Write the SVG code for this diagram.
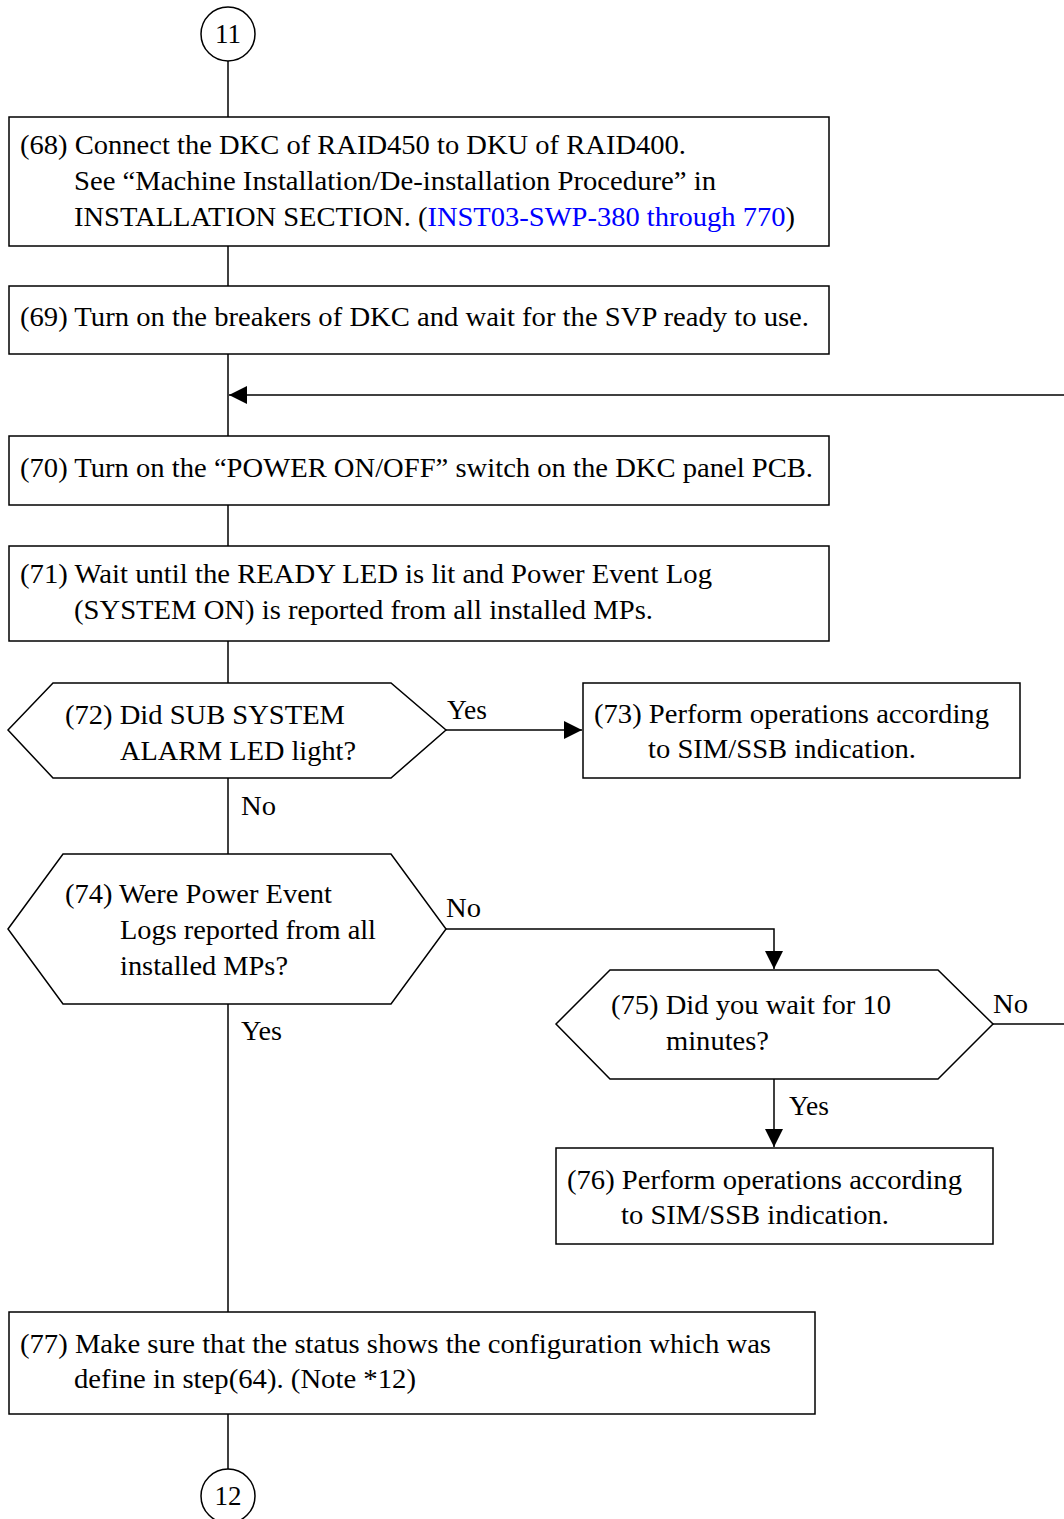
<svg xmlns="http://www.w3.org/2000/svg" width="1064" height="1519" viewBox="0 0 1064 1519">
<defs>
<style>
.n{fill:#fff;stroke:#000;stroke-width:1.5}
.c{fill:none;stroke:#000;stroke-width:1.5}
text{font-family:"Liberation Serif","Times New Roman",serif;font-size:26.5px;fill:#000}
.mid{text-anchor:middle}
.lk{fill:#0000ff}
</style>
<marker id="ah" viewBox="0 0 10 10" refX="10" refY="5" markerWidth="18" markerHeight="18" markerUnits="userSpaceOnUse" orient="auto">
<path d="M0,0 L10,5 L0,10 Z" fill="#000"/>
</marker>
</defs>
<g id="connectors">
<line class="c" x1="228" y1="61" x2="228" y2="117"/>
<line class="c" x1="228" y1="246" x2="228" y2="286"/>
<line class="c" x1="228" y1="354" x2="228" y2="436"/>
<line class="c" x1="1066" y1="395" x2="229" y2="395" marker-end="url(#ah)"/>
<line class="c" x1="228" y1="505" x2="228" y2="546"/>
<line class="c" x1="228" y1="641" x2="228" y2="683"/>
<line class="c" x1="446" y1="730" x2="582" y2="730" marker-end="url(#ah)"/>
<line class="c" x1="228" y1="778" x2="228" y2="854"/>
<polyline class="c" points="446,929 774,929 774,969" marker-end="url(#ah)"/>
<line class="c" x1="993" y1="1024" x2="1066" y2="1024"/>
<line class="c" x1="774" y1="1079" x2="774" y2="1147" marker-end="url(#ah)"/>
<line class="c" x1="228" y1="1004" x2="228" y2="1312"/>
<line class="c" x1="228" y1="1414" x2="228" y2="1469"/>
<text x="447" y="719" textLength="40" lengthAdjust="spacingAndGlyphs">Yes</text>
<text x="241" y="815" textLength="35" lengthAdjust="spacingAndGlyphs">No</text>
<text x="446" y="917" textLength="35" lengthAdjust="spacingAndGlyphs">No</text>
<text x="241" y="1040" textLength="41" lengthAdjust="spacingAndGlyphs">Yes</text>
<text x="993" y="1013" textLength="35" lengthAdjust="spacingAndGlyphs">No</text>
<text x="789" y="1115" textLength="40" lengthAdjust="spacingAndGlyphs">Yes</text>
</g>
<g id="c11">
<circle class="n" cx="228" cy="34" r="27"/>
<text class="mid" x="228" y="43" textLength="26" lengthAdjust="spacingAndGlyphs">11</text>
</g>
<g id="n68">
<rect class="n" x="9" y="117" width="820" height="129"/>
<text x="20" y="154" textLength="666" lengthAdjust="spacingAndGlyphs">(68) Connect the DKC of RAID450 to DKU of RAID400.</text>
<text x="74" y="190" textLength="642" lengthAdjust="spacingAndGlyphs">See “Machine Installation/De-installation Procedure” in</text>
<text x="74" y="226" textLength="721" lengthAdjust="spacingAndGlyphs">INSTALLATION SECTION. (<tspan class="lk">INST03-SWP-380 through 770</tspan>)</text>
</g>
<g id="n69">
<rect class="n" x="9" y="286" width="820" height="68"/>
<text x="20" y="326" textLength="789" lengthAdjust="spacingAndGlyphs">(69) Turn on the breakers of DKC and wait for the SVP ready to use.</text>
</g>
<g id="n70">
<rect class="n" x="9" y="436" width="820" height="69"/>
<text x="20" y="477" textLength="793" lengthAdjust="spacingAndGlyphs">(70) Turn on the “POWER ON/OFF” switch on the DKC panel PCB.</text>
</g>
<g id="n71">
<rect class="n" x="9" y="546" width="820" height="95"/>
<text x="20" y="583" textLength="692" lengthAdjust="spacingAndGlyphs">(71) Wait until the READY LED is lit and Power Event Log</text>
<text x="74" y="619" textLength="579" lengthAdjust="spacingAndGlyphs">(SYSTEM ON) is reported from all installed MPs.</text>
</g>
<g id="n72">
<polygon class="n" points="8,730 53,683 391,683 446,730 391,778 53,778"/>
<text x="65" y="724" textLength="280" lengthAdjust="spacingAndGlyphs">(72) Did SUB SYSTEM</text>
<text x="120" y="760" textLength="236" lengthAdjust="spacingAndGlyphs">ALARM LED light?</text>
</g>
<g id="n73">
<rect class="n" x="583" y="683" width="437" height="95"/>
<text x="594" y="723" textLength="395" lengthAdjust="spacingAndGlyphs">(73) Perform operations according</text>
<text x="648" y="758" textLength="268" lengthAdjust="spacingAndGlyphs">to SIM/SSB indication.</text>
</g>
<g id="n74">
<polygon class="n" points="8,929 63,854 391,854 446,929 391,1004 63,1004"/>
<text x="65" y="903" textLength="267" lengthAdjust="spacingAndGlyphs">(74) Were Power Event</text>
<text x="120" y="939" textLength="256" lengthAdjust="spacingAndGlyphs">Logs reported from all</text>
<text x="120" y="975" textLength="168" lengthAdjust="spacingAndGlyphs">installed MPs?</text>
</g>
<g id="n75">
<polygon class="n" points="556,1024 610,970 938,970 993,1024 938,1079 610,1079"/>
<text x="611" y="1014" textLength="280" lengthAdjust="spacingAndGlyphs">(75) Did you wait for 10</text>
<text x="666" y="1050" textLength="103" lengthAdjust="spacingAndGlyphs">minutes?</text>
</g>
<g id="n76">
<rect class="n" x="556" y="1148" width="437" height="96"/>
<text x="567" y="1189" textLength="395" lengthAdjust="spacingAndGlyphs">(76) Perform operations according</text>
<text x="621" y="1224" textLength="268" lengthAdjust="spacingAndGlyphs">to SIM/SSB indication.</text>
</g>
<g id="n77">
<rect class="n" x="9" y="1312" width="806" height="102"/>
<text x="20" y="1353" textLength="751" lengthAdjust="spacingAndGlyphs">(77) Make sure that the status shows the configuration which was</text>
<text x="74" y="1388" textLength="342" lengthAdjust="spacingAndGlyphs">define in step(64). (Note *12)</text>
</g>
<g id="c12">
<circle class="n" cx="228" cy="1496" r="27"/>
<text class="mid" x="228" y="1505" textLength="27" lengthAdjust="spacingAndGlyphs">12</text>
</g>
</svg>
